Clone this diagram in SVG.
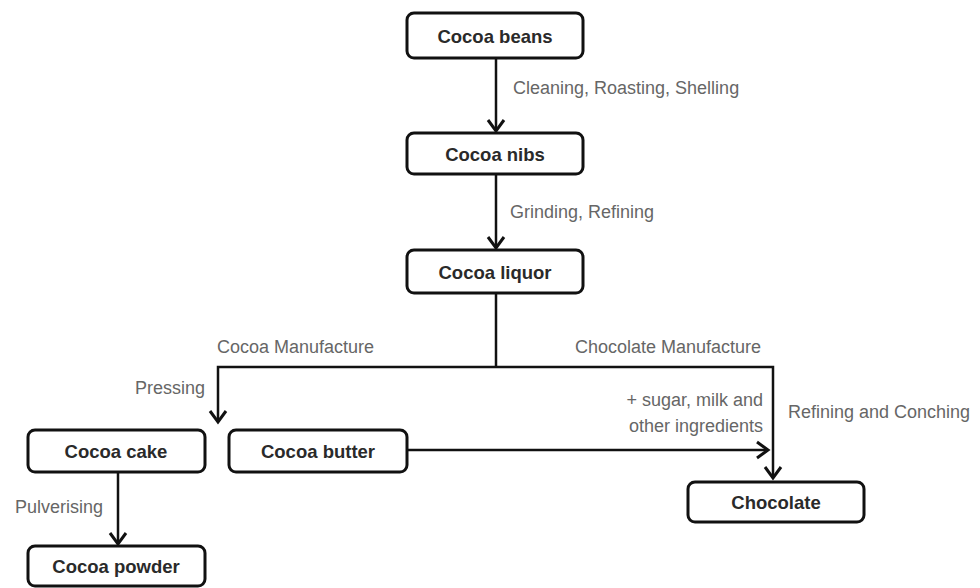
<svg xmlns="http://www.w3.org/2000/svg" width="980" height="588" viewBox="0 0 980 588">
<style>
.box{fill:#fff;stroke:#111;stroke-width:3}
.nt{font-family:"Liberation Sans",Arial,sans-serif;font-weight:bold;font-size:18.5px;fill:#2a2a2a;text-anchor:middle;dominant-baseline:central}
.lb{font-family:"Liberation Sans",Arial,sans-serif;font-size:18px;fill:#666;dominant-baseline:central}
.ln{fill:none;stroke:#111;stroke-width:2.5}
</style>
<defs>
<marker id="ah" viewBox="0 0 20 20" refX="17" refY="10" markerWidth="20" markerHeight="20" markerUnits="userSpaceOnUse" orient="auto">
<polyline points="6,2 17,10 6,18" fill="none" stroke="#111" stroke-width="3"/>
</marker>
</defs>
<rect width="980" height="588" fill="#fff"/>
<g id="connectors">
<line class="ln" x1="496" y1="58" x2="496" y2="131" marker-end="url(#ah)"/>
<line class="ln" x1="496" y1="174" x2="496" y2="248" marker-end="url(#ah)"/>
<polyline class="ln" points="496,293 496,367"/>
<polyline class="ln" points="496,367 218,367 218,422" marker-end="url(#ah)"/>
<polyline class="ln" points="496,367 773,367 773,478" marker-end="url(#ah)"/>
<line class="ln" x1="407" y1="450" x2="768" y2="450" marker-end="url(#ah)"/>
<line class="ln" x1="118" y1="472" x2="118" y2="544" marker-end="url(#ah)"/>
<text class="lb" x="513" y="88">Cleaning, Roasting, Shelling</text>
<text class="lb" x="510" y="212">Grinding, Refining</text>
<text class="lb" x="217" y="347">Cocoa Manufacture</text>
<text class="lb" x="575" y="347">Chocolate Manufacture</text>
<text class="lb" x="205" y="388" text-anchor="end">Pressing</text>
<text class="lb" x="763" y="400" text-anchor="end">+ sugar, milk and</text>
<text class="lb" x="763" y="426" text-anchor="end">other ingredients</text>
<text class="lb" x="788" y="412">Refining and Conching</text>
<text class="lb" x="103" y="507" text-anchor="end">Pulverising</text>
</g>
<g id="cocoa-beans"><rect class="box" x="407" y="13" width="176" height="45" rx="7"/><text class="nt" x="495" y="36">Cocoa beans</text></g>
<g id="cocoa-nibs"><rect class="box" x="407" y="133" width="176" height="41" rx="7"/><text class="nt" x="495" y="154">Cocoa nibs</text></g>
<g id="cocoa-liquor"><rect class="box" x="407" y="250" width="176" height="43" rx="7"/><text class="nt" x="495" y="272">Cocoa liquor</text></g>
<g id="cocoa-cake"><rect class="box" x="28" y="430" width="177" height="42" rx="7"/><text class="nt" x="116" y="451">Cocoa cake</text></g>
<g id="cocoa-butter"><rect class="box" x="229" y="430" width="178" height="42" rx="7"/><text class="nt" x="318" y="451">Cocoa butter</text></g>
<g id="cocoa-powder"><rect class="box" x="28" y="546" width="177" height="40" rx="7"/><text class="nt" x="116" y="566">Cocoa powder</text></g>
<g id="chocolate"><rect class="box" x="688" y="482" width="176" height="40" rx="7"/><text class="nt" x="776" y="502">Chocolate</text></g>
</svg>
